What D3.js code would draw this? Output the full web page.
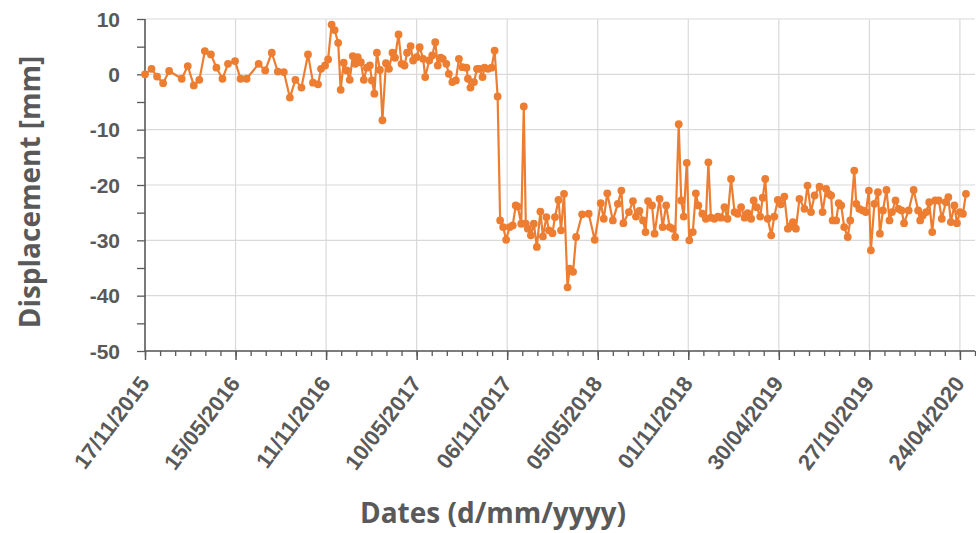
<!DOCTYPE html>
<html>
<head>
<meta charset="utf-8">
<script src="https://cdn.jsdelivr.net/npm/d3@7"></script>
<style>
  html, body { margin: 0; padding: 0; background: #fff; }
  svg { display: block; font-family: "Open Sans", "Lato", sans-serif; }
</style>
</head>
<body>
<svg id="chart" width="976" height="533"></svg>
<script>
// Survey start date; acquisitions are given as day offsets from it
const startDateLabel = "17/11/2015";

// Days since the start date for each acquisition
const dayOffsets = [
  0, 13, 24, 36, 48, 73, 85, 97, 108, 119, 131, 142, 154, 165, 179, 190, 202, 226, 239, 252,
  264, 276, 288, 299, 311, 324, 334, 344, 350, 358, 364, 371, 377, 384, 389, 395, 401, 407, 413, 418,
  423, 429, 435, 441, 447, 451, 456, 461, 467, 472, 479, 485, 492, 497, 504, 510, 516, 521, 528, 533,
  540, 546, 553, 557, 565, 571, 577, 582, 588, 592, 599, 604, 611, 618, 624, 631, 639, 642, 647, 654,
  660, 665, 671, 675, 682, 689, 695, 701, 706, 712, 718, 725, 731, 737, 741, 748, 753, 757, 761, 767,
  773, 779, 786, 791, 798, 803, 810, 815, 822, 827, 833, 840, 844, 851, 857, 869, 882, 894, 906, 912,
  919, 930, 940, 947, 951, 962, 970, 976, 983, 990, 995, 1000, 1008, 1013, 1023, 1029, 1036, 1043, 1049, 1054,
  1061, 1066, 1071, 1077, 1082, 1089, 1095, 1100, 1108, 1115, 1120, 1125, 1132, 1139, 1145, 1152, 1158, 1165, 1172, 1178,
  1185, 1192, 1198, 1205, 1210, 1216, 1223, 1228, 1233, 1238, 1245, 1251, 1258, 1264, 1271, 1278, 1283, 1288, 1294, 1301,
  1311, 1317, 1324, 1331, 1341, 1347, 1354, 1359, 1364, 1367, 1374, 1379, 1384, 1390, 1397, 1402, 1410, 1414, 1420, 1427,
  1433, 1439, 1443, 1450, 1457, 1461, 1467, 1474, 1480, 1485, 1492, 1498, 1504, 1509, 1518, 1528, 1537, 1541, 1546, 1553,
  1559, 1565, 1571, 1578, 1584, 1592, 1597, 1602, 1609, 1614, 1620, 1626, 1632
];

// Displacement at each acquisition [mm]
const displacement = [
  0.0, 1.0, -0.4, -1.6, 0.6, -0.8, 1.5, -2.0, -1.0, 4.2, 3.6, 1.2, -0.8, 1.9, 2.4, -0.8, -0.8, 1.9, 0.7, 3.9,
  0.5, 0.4, -4.2, -1.0, -2.4, 3.6, -1.5, -1.8, 1.0, 1.6, 2.7, 9.0, 8.0, 5.7, -2.8, 2.1, 0.7, -1.0, 3.3, 1.9,
  3.1, 2.2, -1.0, 1.2, 1.6, -1.1, -3.5, 3.9, 0.8, -8.3, 2.0, 1.0, 3.9, 3.0, 7.2, 1.9, 1.6, 3.9, 5.1, 2.5,
  3.1, 4.9, 2.8, -0.5, 2.5, 3.4, 5.8, 1.6, 3.0, 2.8, 1.9, 0.1, -1.4, -1.1, 2.8, 1.3, 1.2, -0.8, -2.4, -1.4,
  1.0, 1.0, -0.5, 1.2, 1.0, 1.2, 4.3, -4.0, -26.4, -27.6, -29.9, -27.6, -27.3, -23.7, -23.9, -27.0, -5.8, -27.0, -27.9, -29.1,
  -27.0, -31.2, -24.8, -29.3, -25.8, -28.2, -28.7, -25.8, -22.7, -28.2, -21.6, -38.5, -35.1, -35.7, -29.4, -25.3, -25.2, -29.9, -23.3, -26.1,
  -21.5, -26.4, -23.4, -21.0, -26.9, -24.9, -22.9, -25.7, -24.7, -26.4, -28.5, -22.9, -23.7, -28.8, -22.5, -27.6, -23.7, -27.6, -27.9, -29.4,
  -9.0, -22.8, -25.7, -16.0, -30.0, -28.5, -21.5, -23.7, -25.2, -26.1, -15.9, -25.9, -26.1, -25.7, -25.9, -24.0, -26.1, -18.9, -24.9, -25.2,
  -24.0, -25.9, -25.1, -26.1, -22.8, -24.0, -25.7, -22.3, -18.9, -26.1, -29.1, -25.7, -22.7, -23.5, -22.1, -27.9, -27.5, -26.7, -27.9, -22.5,
  -24.3, -20.1, -24.9, -21.9, -20.3, -24.9, -20.7, -21.6, -21.9, -26.4, -26.4, -23.3, -23.7, -27.6, -29.4, -26.4, -17.4, -23.4, -24.3, -24.6,
  -24.9, -21.0, -31.8, -23.4, -21.3, -28.8, -24.6, -20.9, -26.4, -24.9, -22.8, -24.3, -24.6, -26.9, -24.6, -20.9, -24.6, -26.4, -25.5, -24.9,
  -23.1, -28.5, -22.8, -22.8, -26.1, -23.1, -22.2, -26.7, -23.7, -26.9, -24.9, -25.2, -21.6
];

// Labelled date ticks on the x axis
const dateTickLabels = [
  "17/11/2015", "15/05/2016", "11/11/2016", "10/05/2017", "06/11/2017",
  "05/05/2018", "01/11/2018", "30/04/2019", "27/10/2019", "24/04/2020"
];

// Labelled displacement ticks on the y axis
const yTickValues = [10, 0, -10, -20, -30, -40, -50];

const xTitle = "Dates (d/mm/yyyy)";
const yTitle = "Displacement  [mm]";

const parseDate = d3.utcParse("%d/%m/%Y");
const fmtDate = d3.utcFormat("%d/%m/%Y");
const start = parseDate(startDateLabel);

const points = dayOffsets.map((d, i) => ({ date: d3.utcDay.offset(start, d), value: displacement[i] }));

const svg = d3.select("#chart");
const margin = { left: 145, right: 1, top: 19, bottom: 182 };
const W = 976, H = 533;

const x = d3.scaleUtc()
  .domain([start, d3.utcDay.offset(start, 1650)])
  .range([margin.left, W - margin.right]);
const y = d3.scaleLinear()
  .domain([-50, 10])
  .range([H - margin.bottom, margin.top]);

const majorDates = dateTickLabels.map(parseDate);
const minorDates = d3.range(0, 1651, 30).map(d => d3.utcDay.offset(start, d));
const minorY = d3.range(-50, 10.1, 5);

const textColor = "#595959";
const gridColor = "#d9d9d9";
const axisColor = "#595959";
const lineColor = "#ED7D31";

// Gridlines
const grid = svg.append("g");
grid.selectAll("line.h").data(yTickValues).join("line")
  .attr("x1", margin.left).attr("x2", W - margin.right)
  .attr("y1", d => y(d)).attr("y2", d => y(d))
  .attr("stroke", gridColor).attr("stroke-width", 1.2);
grid.selectAll("line.v").data(majorDates.slice(1)).join("line")
  .attr("x1", d => x(d)).attr("x2", d => x(d))
  .attr("y1", y(10)).attr("y2", y(-50))
  .attr("stroke", gridColor).attr("stroke-width", 1.2);

// Y axis: major labelled ticks and minor ticks
const yAxis = svg.append("g").attr("transform", `translate(${margin.left},0)`);
yAxis.call(d3.axisLeft(y).tickValues(minorY).tickSize(8).tickFormat(""));
yAxis.select(".domain").remove();
yAxis.selectAll(".tick line").attr("stroke", axisColor).attr("stroke-width", 1.3);
yAxis.append("line")
  .attr("x1", 0).attr("x2", 0).attr("y1", y(10)).attr("y2", y(-50))
  .attr("stroke", axisColor).attr("stroke-width", 1.6);
yAxis.selectAll("text.ylab").data(yTickValues).join("text")
  .attr("class", "ylab")
  .attr("x", -25).attr("y", d => y(d))
  .attr("dy", "0.36em")
  .attr("text-anchor", "end")
  .attr("fill", textColor)
  .attr("font-size", 21).attr("font-weight", 700)
  .text(d => d);

// X axis: minor ticks, major ticks and rotated date labels
const xAxisG = svg.append("g").attr("transform", `translate(0,${y(-50)})`);
xAxisG.call(d3.axisBottom(x).tickValues(minorDates).tickSize(5).tickFormat(""));
xAxisG.select(".domain").remove();
xAxisG.selectAll(".tick line").attr("stroke", axisColor).attr("stroke-width", 1.3);
const xMajor = xAxisG.append("g").call(d3.axisBottom(x).tickValues(majorDates).tickSize(9).tickFormat(""));
xMajor.select(".domain").remove();
xMajor.selectAll(".tick line").attr("stroke", axisColor).attr("stroke-width", 1.5);
xAxisG.append("line")
  .attr("x1", margin.left).attr("x2", W - margin.right).attr("y1", 0).attr("y2", 0)
  .attr("stroke", axisColor).attr("stroke-width", 1.6);
xAxisG.selectAll("text.xlab").data(majorDates).join("text")
  .attr("class", "xlab")
  .attr("transform", d => `translate(${x(d) - 0.5},${28}) rotate(-53)`)
  .attr("text-anchor", "end")
  .attr("dy", "0.35em")
  .attr("fill", textColor)
  .attr("font-size", 22).attr("font-weight", 700)
  .text(d => fmtDate(d));

// Displacement series: line with circular markers
const line = d3.line().x(d => x(d.date)).y(d => y(d.value));
svg.append("path").datum(points)
  .attr("d", line)
  .attr("fill", "none")
  .attr("stroke", lineColor)
  .attr("stroke-width", 2.2)
  .attr("stroke-linejoin", "round");
svg.append("g").selectAll("circle").data(points).join("circle")
  .attr("cx", d => x(d.date)).attr("cy", d => y(d.value))
  .attr("r", 3.9)
  .attr("fill", lineColor);

// Axis titles
svg.append("text")
  .attr("x", 493).attr("y", 523)
  .attr("text-anchor", "middle")
  .attr("fill", textColor)
  .attr("font-size", 28).attr("font-weight", 700)
  .text(xTitle);
svg.append("text")
  .attr("transform", `translate(40,192) rotate(-90)`)
  .attr("text-anchor", "middle")
  .attr("fill", textColor)
  .attr("font-size", 28).attr("font-weight", 700)
  .text(yTitle);
</script>
</body>
</html>
